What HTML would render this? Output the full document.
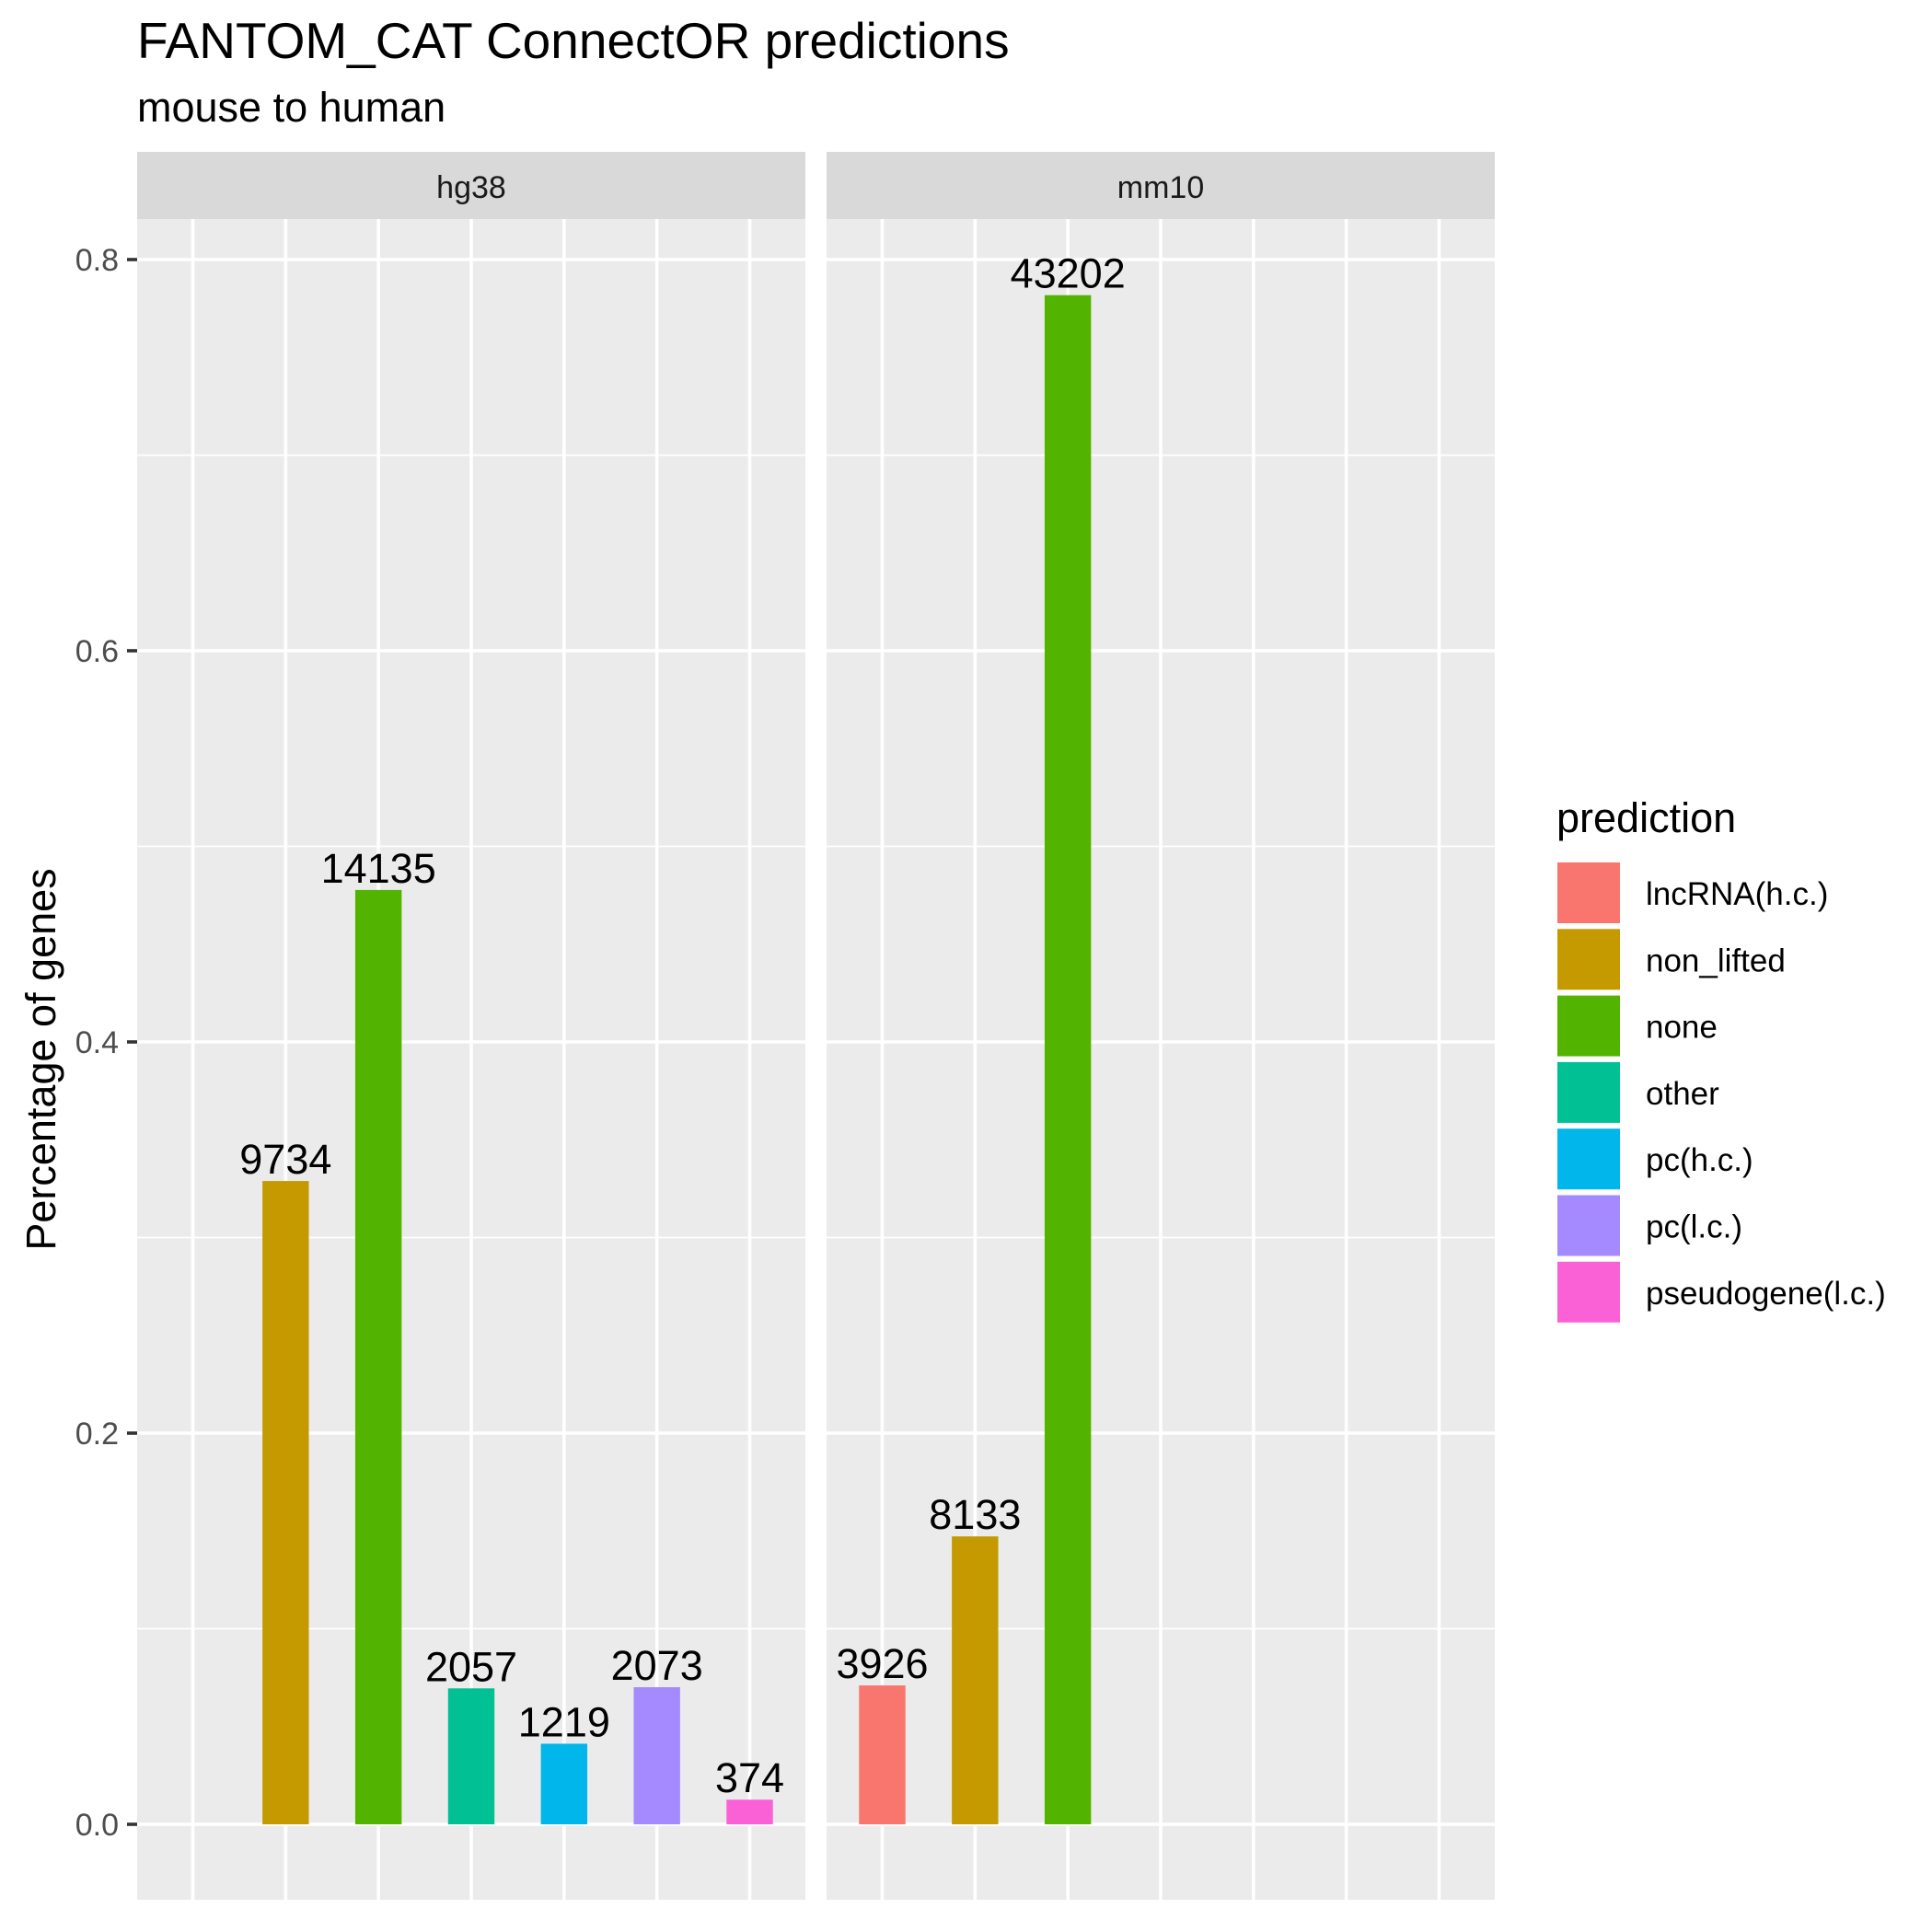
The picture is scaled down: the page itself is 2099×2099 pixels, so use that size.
<!DOCTYPE html>
<html><head><meta charset="utf-8"><style>
html,body{margin:0;padding:0;background:#fff;}
svg{display:block;font-family:"Liberation Sans",sans-serif;}
</style></head><body>
<svg id="chart" width="2099" height="2099" viewBox="0 0 2099 2099" xmlns="http://www.w3.org/2000/svg">
<rect width="2099" height="2099" fill="#fff"/>
<text x="149" y="63" font-size="55" fill="#000">FANTOM_CAT ConnectOR predictions</text>
<text x="149" y="132" font-size="45" fill="#000">mouse to human</text>
<text transform="translate(60,1151) rotate(-90)" text-anchor="middle" font-size="45" fill="#000">Percentage of genes</text>
<g id="plot"></g>
<g id="legend"></g>
</svg>
<script>
const categories = ["lncRNA(h.c.)","non_lifted","none","other","pc(h.c.)","pc(l.c.)","pseudogene(l.c.)"];
const colors = ["#F8766D","#C49A00","#53B400","#00C094","#00B6EB","#A58AFF","#FB61D7"];
const panels = ["hg38","mm10"];
const hg38Values = [null,0.3289,0.4777,0.0695,0.0412,0.0701,0.0126];
const hg38Labels = ["","9734","14135","2057","1219","2073","374"];
const mm10Values = [0.0710,0.1472,0.7818,null,null,null,null];
const mm10Labels = ["3926","8133","43202","","","",""];
const yTicks = [0,0.2,0.4,0.6,0.8];
const yTickLabels = ["0.0","0.2","0.4","0.6","0.8"];
const yMinor = [0.1,0.3,0.5,0.7];

const NS="http://www.w3.org/2000/svg";
function mk(tag,attrs,parent){const e=document.createElementNS(NS,tag);for(const k in attrs)e.setAttribute(k,attrs[k]);parent.appendChild(e);return e;}
const plotTop=238, plotBottom=2064, stripTop=165;
const y0=1982, yScale=2125;
function yPos(v){return y0 - v*yScale;}
const panelX=[[149,875],[898,1624]];
function xPos(p,i){const [a,b]=panelX[p];const step=(b-a)/(categories.length-1+1.2);return a+step*(0.6+i);}
function bandW(p){const [a,b]=panelX[p];return (b-a)/(categories.length-1+1.2)*0.5;}
const plot=document.getElementById('plot');
const allVals=[hg38Values,mm10Values], allLabels=[hg38Labels,mm10Labels];
panels.forEach((name,p)=>{
  const [a,b]=panelX[p];
  const g=mk('g',{},plot);
  
  
  const bg=mk('rect',{x:a,y:plotTop,width:b-a,height:plotBottom-plotTop,fill:'#EBEBEB'},g);
  
  
  const st=mk('rect',{x:a,y:stripTop,width:b-a,height:plotTop-stripTop,fill:'#D9D9D9'},g);
  
  
  const sl=mk('text',{x:(a+b)/2,y:215,'text-anchor':'middle','font-size':34,fill:'#1A1A1A'},g);
  sl.textContent=name;
  
  
  yMinor.forEach(v=>{const l=mk('line',{x1:a,x2:b,y1:yPos(v),y2:yPos(v),stroke:'#fff','stroke-width':1.8},g);
    
    });
  yTicks.forEach(v=>{const l=mk('line',{x1:a,x2:b,y1:yPos(v),y2:yPos(v),stroke:'#fff','stroke-width':3.6},g);
    
    });
  categories.forEach((c,i)=>{const x=xPos(p,i);const l=mk('line',{x1:x,x2:x,y1:plotTop,y2:plotBottom,stroke:'#fff','stroke-width':3.6},g);
    
    });
  const vals=allVals[p], labs=allLabels[p], w=bandW(p);
  vals.forEach((v,i)=>{
    if(v===null||v===undefined)return;
    const x=xPos(p,i);
    const r=mk('rect',{x:x-w/2,y:yPos(v),width:w,height:yPos(0)-yPos(v),fill:colors[i]},g);
    
    
    const t=mk('text',{x:x,y:yPos(v)-8,'text-anchor':'middle','font-size':45,fill:'#000'},g);
    t.textContent=labs[i];
    
    
  });
});
yTicks.forEach((v,i)=>{
  const l=mk('line',{x1:138,x2:149,y1:yPos(v),y2:yPos(v),stroke:'#333','stroke-width':3.6},plot);
  
  
  const t=mk('text',{x:129,y:yPos(v)+12,'text-anchor':'end','font-size':34,fill:'#4D4D4D'},plot);
  t.textContent=yTickLabels[i];
  
  
});
const lg=document.getElementById('legend');
const lt=mk('text',{x:1691,y:904,'font-size':45,fill:'#000'},lg);
lt.textContent='prediction';


categories.forEach((c,i)=>{
  const ky=937+i*72.3;
  const k=mk('rect',{x:1692,y:ky,width:68,height:66,fill:colors[i]},lg);
  
  
  const t=mk('text',{x:1788,y:ky+46,'font-size':35,fill:'#000'},lg);
  t.textContent=c;
  
  
});
</script>
</body></html>
